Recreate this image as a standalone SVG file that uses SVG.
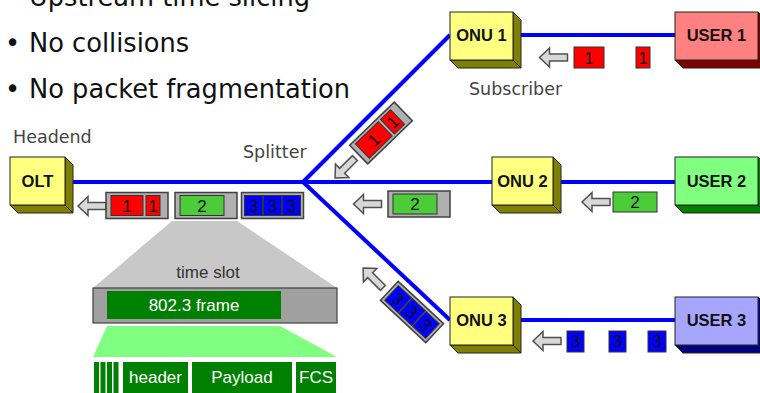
<svg xmlns="http://www.w3.org/2000/svg" width="760" height="393" viewBox="0 0 760 393">
  <style>
    .bullet { font-family: "DejaVu Sans", Verdana, sans-serif; font-size: 25.7px; fill: #111; }
    .cap { font-family: "DejaVu Sans", Verdana, sans-serif; font-size: 17.5px; fill: #444; }
    .lbl { font-family: "Liberation Sans", Arial, sans-serif; font-size: 16.5px; font-weight: bold; fill: #111; text-anchor: middle; }
    .num { font-family: "Liberation Sans", Arial, sans-serif; font-size: 17px; fill: #111; text-anchor: middle; }
    .wt { font-family: "Liberation Sans", Arial, sans-serif; font-size: 17px; fill: #fff; text-anchor: middle; }
    .ts { font-family: "Liberation Sans", Arial, sans-serif; font-size: 17px; fill: #333; text-anchor: middle; }
    .fiber { stroke: #0000FF; stroke-width: 4; fill: none; }
    .face { stroke: #222; stroke-width: 1; }
    .cont { fill: #B0B0B0; stroke: #404040; stroke-width: 1.5; }
    .red { fill: #FF0000; stroke: #333; stroke-width: 1; }
    .grn { fill: #4CCC38; stroke: #333; stroke-width: 1; }
    .blu { fill: #0000FF; stroke: #333; stroke-width: 1; }
    .arr { fill: #D8D8D8; stroke: #505050; stroke-width: 1.5; stroke-linejoin: miter; }
    .dg { fill: #008000; }
  </style>
  <defs>
    <!-- hollow arrow pointing left, centred on the origin -->
    <path id="arrow" class="arr" d="M-14,0 L-4,-9.5 L-4,-3.5 L14,-3.5 L14,3.5 L-4,3.5 L-4,9.5 Z"/>
  </defs>

  <!-- bullet list -->
  <g id="bullets">
    <text class="bullet" x="5" y="6">•</text>
    <text class="bullet" x="29" y="6">Upstream time slicing</text>
    <text class="bullet" x="5" y="52">•</text>
    <text class="bullet" x="29" y="52">No collisions</text>
    <text class="bullet" x="5" y="98">•</text>
    <text class="bullet" x="29" y="98">No packet fragmentation</text>
  </g>

  <!-- captions -->
  <text class="cap" x="13" y="143">Headend</text>
  <text class="cap" x="243" y="158">Splitter</text>
  <text class="cap" x="469" y="95" fill="#555">Subscriber</text>

  <!-- fiber connectors -->
  <g id="connectors">
    <line class="fiber" x1="65" y1="182" x2="303" y2="182"/>
    <line class="fiber" x1="303" y1="182" x2="450" y2="35"/>
    <line class="fiber" x1="303" y1="182" x2="492" y2="182"/>
    <line class="fiber" x1="303" y1="182" x2="450" y2="320"/>
    <line class="fiber" x1="513" y1="35" x2="675" y2="35"/>
    <line class="fiber" x1="553" y1="182" x2="675" y2="182"/>
    <line class="fiber" x1="513" y1="320" x2="675" y2="320"/>
  </g>

  <!-- OLT -->
  <g id="olt">
    <polygon class="face" fill="#808000" points="65,157 73,165 73,213 65,205"/>
    <polygon class="face" fill="#808000" points="10,205 65,205 73,213 18,213"/>
    <rect class="face" x="10" y="157" width="55" height="48" fill="#FFFF80"/>
    <text class="lbl" x="37.5" y="187">OLT</text>
  </g>

  <!-- ONU 1 -->
  <g id="onu1">
    <polygon class="face" fill="#808000" points="513,12 521,20 521,68 513,60"/>
    <polygon class="face" fill="#808000" points="450,60 513,60 521,68 458,68"/>
    <rect class="face" x="450" y="12" width="63" height="48" fill="#FFFF80"/>
    <text class="lbl" x="481.5" y="41">ONU 1</text>
  </g>

  <!-- ONU 2 -->
  <g id="onu2">
    <polygon class="face" fill="#808000" points="553,157 561,165 561,213 553,205"/>
    <polygon class="face" fill="#808000" points="492,205 553,205 561,213 500,213"/>
    <rect class="face" x="492" y="157" width="61" height="48" fill="#FFFF80"/>
    <text class="lbl" x="522.5" y="187">ONU 2</text>
  </g>

  <!-- ONU 3 -->
  <g id="onu3">
    <polygon class="face" fill="#808000" points="513,297 521,305 521,353 513,345"/>
    <polygon class="face" fill="#808000" points="450,345 513,345 521,353 458,353"/>
    <rect class="face" x="450" y="297" width="63" height="48" fill="#FFFF80"/>
    <text class="lbl" x="481.5" y="326">ONU 3</text>
  </g>

  <!-- USER 1 -->
  <g id="user1">
    <polygon class="face" fill="#800000" points="758,12 766,20 766,68 758,60"/>
    <polygon class="face" fill="#800000" points="675,60 758,60 766,68 683,68"/>
    <rect class="face" x="675" y="12" width="83" height="48" fill="#FF8080"/>
    <text class="lbl" x="716.5" y="41">USER 1</text>
  </g>

  <!-- USER 2 -->
  <g id="user2">
    <polygon class="face" fill="#008000" points="758,157 766,165 766,213 758,205"/>
    <polygon class="face" fill="#008000" points="675,205 758,205 766,213 683,213"/>
    <rect class="face" x="675" y="157" width="83" height="48" fill="#80FF80"/>
    <text class="lbl" x="716.5" y="187">USER 2</text>
  </g>

  <!-- USER 3 -->
  <g id="user3">
    <polygon class="face" fill="#000080" points="758,297 766,305 766,353 758,345"/>
    <polygon class="face" fill="#000080" points="675,345 758,345 766,353 683,353"/>
    <rect class="face" x="675" y="297" width="83" height="48" fill="#A6A6FF"/>
    <text class="lbl" x="716.5" y="326">USER 3</text>
  </g>

  <!-- packets leaving the users -->
  <g id="user-packets">
    <use href="#arrow" transform="translate(553.5,57.5)"/>
    <rect class="red" x="574" y="47" width="30" height="21"/>
    <text class="num" x="589" y="64">1</text>
    <rect class="red" x="636" y="47" width="14" height="21"/>
    <text class="num" x="643" y="64">1</text>

    <use href="#arrow" transform="translate(596,202)"/>
    <rect class="grn" x="613" y="192" width="44" height="20"/>
    <text class="num" x="635" y="208">2</text>

    <use href="#arrow" transform="translate(547,341)"/>
    <rect class="blu" x="567" y="331" width="17" height="21"/>
    <text class="num" x="575.5" y="347">3</text>
    <rect class="blu" x="609" y="331" width="17" height="21"/>
    <text class="num" x="617.5" y="347">3</text>
    <rect class="blu" x="648" y="331" width="18" height="21"/>
    <text class="num" x="657" y="347">3</text>
  </g>

  <!-- time slots on the branches -->
  <g id="branch-slots">
    <g transform="translate(381,133) rotate(-44)">
      <rect class="cont" x="-31" y="-13" width="62" height="26"/>
      <rect class="red" x="-26" y="-10" width="32" height="20"/>
      <text class="num" x="-10" y="6">1</text>
      <rect class="red" x="9" y="-10" width="14" height="20"/>
      <text class="num" x="16" y="6">1</text>
    </g>
    <use href="#arrow" transform="translate(345,168) rotate(-45)"/>

    <use href="#arrow" transform="translate(367.5,204)"/>
    <g transform="translate(419,204)">
      <rect class="cont" x="-31" y="-13" width="62" height="26"/>
      <rect class="grn" x="-26" y="-10" width="44" height="20"/>
      <text class="num" x="-4" y="6">2</text>
    </g>

    <g transform="translate(412,312) rotate(43)">
      <rect class="cont" x="-31" y="-13" width="62" height="26"/>
      <rect class="blu" x="-28" y="-10" width="18" height="20"/>
      <text class="num" x="-19" y="6">3</text>
      <rect class="blu" x="-9" y="-10" width="18" height="20"/>
      <text class="num" x="0" y="6">3</text>
      <rect class="blu" x="10" y="-10" width="18" height="20"/>
      <text class="num" x="19" y="6">3</text>
    </g>
    <use href="#arrow" transform="translate(373,278) rotate(45)"/>
  </g>

  <!-- interleaved stream arriving at the OLT -->
  <g id="olt-stream">
    <use href="#arrow" transform="translate(92,206)"/>
    <g transform="translate(137,205.5)">
      <rect class="cont" x="-31" y="-13" width="62" height="26"/>
      <rect class="red" x="-26" y="-10" width="32" height="20"/>
      <text class="num" x="-10" y="6">1</text>
      <rect class="red" x="9" y="-10" width="14" height="20"/>
      <text class="num" x="16" y="6">1</text>
    </g>
    <g transform="translate(206,205.5)">
      <rect class="cont" x="-31" y="-13" width="62" height="26"/>
      <rect class="grn" x="-26" y="-10" width="44" height="20"/>
      <text class="num" x="-4" y="6">2</text>
    </g>
    <g transform="translate(272.5,205.5)">
      <rect class="cont" x="-31" y="-13" width="62" height="26"/>
      <rect class="blu" x="-28" y="-10" width="18" height="20"/>
      <text class="num" x="-19" y="6">3</text>
      <rect class="blu" x="-9" y="-10" width="18" height="20"/>
      <text class="num" x="0" y="6">3</text>
      <rect class="blu" x="10" y="-10" width="18" height="20"/>
      <text class="num" x="19" y="6">3</text>
    </g>
  </g>

  <!-- exploded view of one time slot -->
  <g id="slot-detail">
    <polygon fill="#C8C8C8" points="172,221 237,221 337,288 93,288"/>
    <text class="ts" x="208" y="278">time slot</text>
    <rect x="93" y="288" width="244" height="35" fill="#A0A0A0" stroke="#404040" stroke-width="1.2"/>
    <rect class="dg" x="107" y="291" width="174" height="28"/>
    <text class="wt" x="194" y="311">802.3 frame</text>

    <polygon fill="#80FF80" points="107,326 280,326 337,357 93,357"/>
    <rect class="dg" x="94" y="362" width="5" height="34"/>
    <rect class="dg" x="100.5" y="362" width="5" height="34"/>
    <rect class="dg" x="107" y="362" width="5" height="34"/>
    <rect class="dg" x="113.5" y="362" width="5" height="34"/>
    <rect class="dg" x="123" y="362" width="65" height="34"/>
    <text class="wt" x="155.5" y="383">header</text>
    <rect class="dg" x="192" y="362" width="100" height="34"/>
    <text class="wt" x="242" y="383">Payload</text>
    <rect class="dg" x="296" y="362" width="40" height="34"/>
    <text class="wt" x="316" y="383">FCS</text>
  </g>
</svg>
